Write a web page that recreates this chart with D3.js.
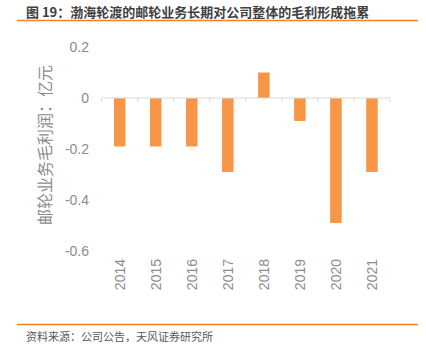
<!DOCTYPE html>
<html><head><meta charset="utf-8">
<script src="https://cdn.jsdelivr.net/npm/d3@7"></script>
<style>body{margin:0;background:#fff}svg{display:block}</style>
</head><body><svg id="c" width="426" height="353"></svg>
<script>
const categories = ["2014","2015","2016","2017","2018","2019","2020","2021"];
const values = [-0.19,-0.19,-0.19,-0.29,0.10,-0.09,-0.49,-0.29];
const yTicks = [0.2,0,-0.2,-0.4,-0.6];
const yTickLabels = ["0.2","0","-0.2","-0.4","-0.6"];
const title = "图 19：渤海轮渡的邮轮业务长期对公司整体的毛利形成拖累";
const yTitle = "邮轮业务毛利润：亿元";
const source = "资料来源：公司公告，天风证券研究所";

const svg = d3.select("#c");
const cjk = "'Noto Sans CJK SC','Noto Sans',sans-serif";
const lat = "'Liberation Sans',Arial,sans-serif";

svg.append("text").attr("x",26).attr("y",16.5).text(title)
  .attr("font-family",cjk).attr("font-size",13).attr("font-weight","bold").attr("fill","#404040");
svg.append("line").attr("x1",17).attr("x2",418).attr("y1",20.5).attr("y2",20.5)
  .attr("stroke","#f58220").attr("stroke-width",1.5);
svg.append("line").attr("x1",17).attr("x2",418).attr("y1",324.5).attr("y2",324.5)
  .attr("stroke","#f58220").attr("stroke-width",1.5);
svg.append("text").attr("x",26).attr("y",341).text(source)
  .attr("font-family",cjk).attr("font-size",11).attr("fill","#595959");

const x = d3.scaleBand().domain(categories).range([101.7,390]).paddingInner(0.68).paddingOuter(0.34);
const y = d3.scaleLinear().domain([-0.6,0.2]).range([251,47]);

svg.append("g").selectAll("rect").data(values).join("rect")
  .attr("x",(d,i)=>x(categories[i]))
  .attr("width",x.bandwidth())
  .attr("y",d=>y(Math.max(0,d)))
  .attr("height",d=>Math.abs(y(d)-y(0)))
  .attr("fill","#f79646");

// zero axis line with ticks
const xb = d3.scaleBand().domain(categories).range([101.7,390]);
const g0 = svg.append("g");
g0.append("line").attr("x1",101.7).attr("x2",390).attr("y1",y(0)).attr("y2",y(0))
  .attr("stroke","#d9d9d9").attr("stroke-width",1);
const edges = categories.map(c=>xb(c)).concat([xb.range()[1]]);
g0.selectAll("line.t").data(edges).join("line").attr("class","t")
  .attr("x1",d=>d).attr("x2",d=>d).attr("y1",y(0)).attr("y2",y(0)+4)
  .attr("stroke","#d9d9d9").attr("stroke-width",1);

// y tick labels
const yAxis = d3.axisLeft(y).tickValues(yTicks).tickFormat((d,i)=>yTickLabels[i]).tickSize(0).tickPadding(0);
const ga = svg.append("g").attr("transform","translate(89,0)").call(yAxis);
ga.select(".domain").remove();
ga.selectAll("text").attr("font-family",lat).attr("font-size",14).attr("fill","#8c8c8c");

// x labels rotated
svg.append("g").selectAll("text").data(categories).join("text")
  .attr("transform",d=>`translate(${xb(d)+xb.bandwidth()/2+5},259) rotate(-90)`)
  .attr("text-anchor","end").text(d=>d)
  .attr("font-family",lat).attr("font-size",14).attr("fill","#8c8c8c");

// y title
svg.append("text").attr("transform","translate(51,145) rotate(-90)")
  .attr("text-anchor","middle").text(yTitle)
  .attr("font-family",cjk).attr("font-size",16).attr("fill","#8c8c8c");
</script></body></html>
